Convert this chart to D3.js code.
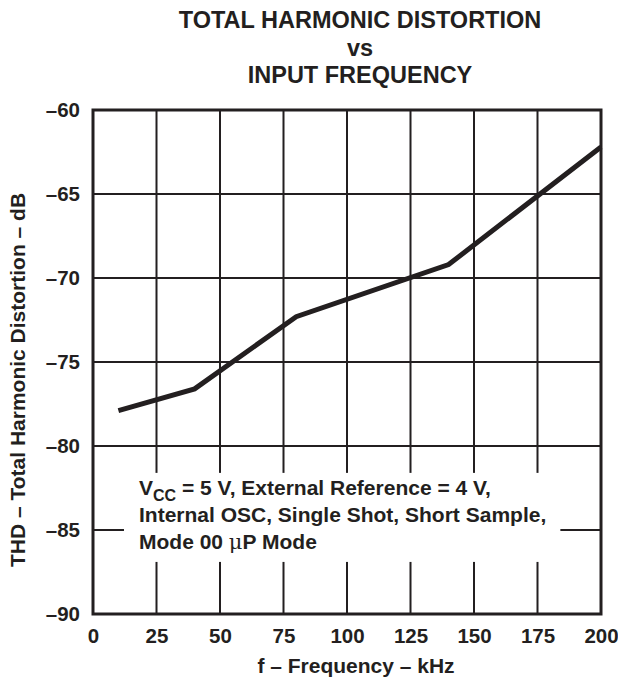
<!DOCTYPE html>
<html>
<head>
<meta charset="utf-8">
<script src="https://cdn.jsdelivr.net/npm/d3@7"></script>
<style>
  body { margin: 0; background: #fff; }
  svg text { font-family: "Liberation Sans", Arial, Helvetica, sans-serif; font-weight: bold; fill: #231f20; }
</style>
</head>
<body>
<script>
const svgWidth = 618; // window width
const svgHeight = 679; // window height
const ink = "#231f20";

// data
const freqKHz = [10, 40, 80, 140, 200];
const thdDb = [-77.9, -76.6, -72.3, -69.2, -62.2];
const xTicks = [0, 25, 50, 75, 100, 125, 150, 175, 200];
const yTicks = [-60, -65, -70, -75, -80, -85, -90];
const titleLines = ["TOTAL HARMONIC DISTORTION", "vs", "INPUT FREQUENCY"];
const noteLines = ["External Reference = 4 V,", "Internal OSC, Single Shot, Short Sample,", "Mode 00 "];

// plot box
const plotLeft = 93, plotRight = 601, plotTop = 110, plotBottom = 614;

const xScale = d3.scaleLinear().domain([0, 200]).range([plotLeft, plotRight]);
const yScale = d3.scaleLinear().domain([-90, -60]).range([plotBottom, plotTop]);

// blank area behind the note, in data units
const noteX0 = 12.2, noteX1 = 184, noteY0 = -81.6, noteY1 = -86.9;

const svg = d3.select("body").append("svg")
  .attr("width", svgWidth)
  .attr("height", svgHeight);

// title
svg.append("g").selectAll("text")
  .data(titleLines)
  .enter().append("text")
  .attr("x", 360)
  .attr("y", (d, i) => 28 + i * 27.5)
  .attr("text-anchor", "middle")
  .style("font-size", "23.5px")
  .text(d => d);

// grid
const grid = svg.append("g");
grid.selectAll("line.v")
  .data(xTicks.slice(1, -1))
  .enter().append("line")
  .attr("class", "v")
  .attr("x1", d => xScale(d)).attr("x2", d => xScale(d))
  .attr("y1", plotTop).attr("y2", plotBottom)
  .attr("stroke", ink).attr("stroke-width", 2);

grid.selectAll("line.h")
  .data(yTicks.slice(1, -1))
  .enter().append("line")
  .attr("class", "h")
  .attr("x1", plotLeft).attr("x2", plotRight)
  .attr("y1", d => yScale(d)).attr("y2", d => yScale(d))
  .attr("stroke", ink).attr("stroke-width", 2);

// the note box blanks out the grid behind it
grid.append("rect")
  .attr("x", xScale(noteX0))
  .attr("y", yScale(noteY0))
  .attr("width", xScale(noteX1) - xScale(noteX0))
  .attr("height", yScale(noteY1) - yScale(noteY0))
  .attr("fill", "#fff");

// note text
const note = svg.append("g").style("font-size", "21px");
const l1 = note.append("text").attr("x", 139).attr("y", 495);
l1.append("tspan").text("V");
l1.append("tspan").attr("dy", 6).style("font-size", "16px").text("CC");
l1.append("tspan").attr("dy", -6).text(" = 5 V, " + noteLines[0]);
note.append("text").attr("x", 139).attr("y", 522).text(noteLines[1]);
const l3 = note.append("text").attr("x", 139).attr("y", 548.5);
l3.append("tspan").text(noteLines[2]);
l3.append("tspan").style("font-weight", "normal").style("font-family", "'DejaVu Serif', serif").text("\u03bc");
l3.append("tspan").text("P Mode");

// data line
const line = d3.line()
  .x((d, i) => xScale(freqKHz[i]))
  .y(d => yScale(d));

svg.append("path")
  .datum(thdDb)
  .attr("d", line)
  .attr("fill", "none")
  .attr("stroke", ink)
  .attr("stroke-width", 5)
  .attr("stroke-linejoin", "miter");

// frame
svg.append("rect")
  .attr("x", plotLeft).attr("y", plotTop)
  .attr("width", plotRight - plotLeft).attr("height", plotBottom - plotTop)
  .attr("fill", "none")
  .attr("stroke", ink)
  .attr("stroke-width", 3);

// axes (labels only, the frame draws the lines)
const xAxis = d3.axisBottom(xScale).tickValues(xTicks).tickSize(0).tickPadding(14);
const gx = svg.append("g")
  .attr("transform", "translate(0," + plotBottom + ")")
  .call(xAxis);
gx.select(".domain").remove();
gx.selectAll("text").style("font-size", "20.5px").attr("fill", ink).attr("dy", "0.71em");

const yAxis = d3.axisLeft(yScale).tickValues(yTicks).tickSize(0).tickPadding(13)
  .tickFormat(d => "\u2013" + Math.abs(d));
const gy = svg.append("g")
  .attr("transform", "translate(" + plotLeft + ",0)")
  .call(yAxis);
gy.select(".domain").remove();
gy.selectAll("text").style("font-size", "20.5px").attr("fill", ink);

// axis titles
svg.append("text")
  .attr("x", 356)
  .attr("y", 673)
  .attr("text-anchor", "middle")
  .style("font-size", "21px")
  .text("f \u2013 Frequency \u2013 kHz");

svg.append("text")
  .attr("transform", "translate(25,380) rotate(-90)")
  .attr("text-anchor", "middle")
  .style("font-size", "21px")
  .text("THD \u2013 Total Harmonic Distortion \u2013 dB");
</script>
</body>
</html>
